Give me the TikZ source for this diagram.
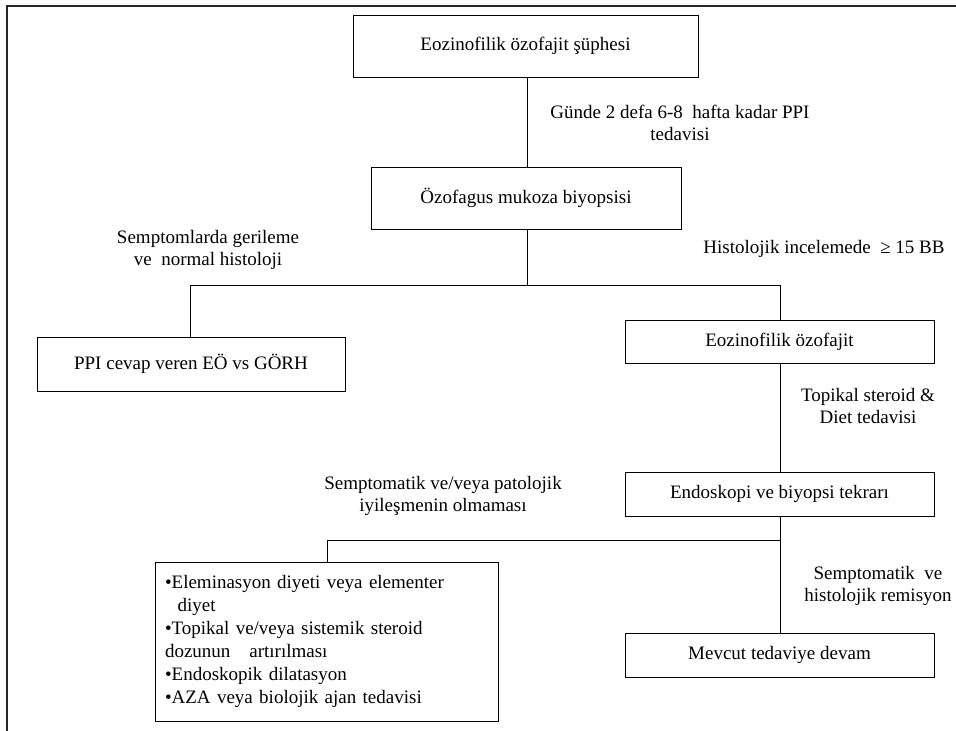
\documentclass[tikz,border=0pt]{standalone}
\usepackage{fontspec}
\setmainfont{Liberation Serif}
\usetikzlibrary{positioning}

\begin{document}
\begin{tikzpicture}[x=1pt,y=-1pt]
   \tikzset{Kutu/.style={draw, thin, inner sep=0pt, align=center,
       font=\fontsize{19}{22}\selectfont}}
   \tikzset{Etiket/.style={inner sep=0pt, align=center,
       font=\fontsize{19}{22}\selectfont}}
   \useasboundingbox (0,0) rectangle (956,731);
   \draw[line width=2pt, black!85] (6.5,740) -- (6.5,5.5) -- (965,5.5);
   % kutular
   \node[Kutu, minimum width=345, minimum height=62] (supheli) at (525.5,46) {Eozinofilik özofajit şüphesi};
   \node[Kutu, minimum width=310, minimum height=62] (biyopsi) at (526,198) {Özofagus mukoza biyopsisi};
   \node[Kutu, minimum width=308, minimum height=54] (ppicevap) at (191,364) {PPI cevap veren EÖ vs GÖRH};
   \node[Kutu, minimum width=309, minimum height=43] (eozofajit) at (779.5,341.5) {Eozinofilik özofajit};
   \node[Kutu, minimum width=309, minimum height=44] (tekrar) at (779.5,494) {Endoskopi ve  biyopsi tekrarı};
   \node[Kutu, minimum width=309, minimum height=44] (devam) at (779.5,655) {Mevcut tedaviye devam};
   \node[Kutu, minimum width=343, minimum height=159, text width=323pt,
         align=left, font=\fontsize{19}{23}\selectfont] (secenek) at (326.5,641.5)
      {•Eleminasyon diyeti veya elementer\\
       \ \ diyet\\
       •Topikal ve/veya sistemik steroid\\
       dozunun \ \ artırılması\\
       •Endoskopik dilatasyon\\
       •AZA veya biolojik ajan tedavisi};
   % etiketler
   \node[Etiket] (ppi) at (680,123) {Günde 2 defa 6-8 \ hafta kadar PPI\\tedavisi};
   \node[Etiket] (gerileme) at (208,249.5) {Semptomlarda gerileme\\ve \ normal histoloji};
   \node[Etiket] (histoloji) at (824,249) {Histolojik incelemede \ ≥ 15 BB};
   \node[Etiket] (steroid) at (868,406) {Topikal steroid \&\\Diet tedavisi};
   \node[Etiket] (iyilesme) at (443,495.5) {Semptomatik ve/veya patolojik\\iyileşmenin olmaması};
   \node[Etiket] (remisyon) at (878,586) {Semptomatik \ ve\\histolojik remisyon};
   % baglantilar
   \coordinate (dal1) at (527,285);
   \coordinate (dal1sol) at (190,285);
   \coordinate (dal1sag) at (780,285);
   \coordinate (dal2) at (780,540);
   \coordinate (dal2sol) at (327,540);
   \draw (supheli.south -| dal1) -- (biyopsi.north -| dal1);
   \draw (biyopsi.south -| dal1) -- (dal1);
   \draw (dal1sol) -- (dal1sag);
   \draw (dal1sol) -- (ppicevap.north -| dal1sol);
   \draw (dal1sag) -- (eozofajit.north -| dal1sag);
   \draw (eozofajit.south -| dal1sag) -- (tekrar.north -| dal1sag);
   \draw (tekrar.south -| dal2) -- (devam.north -| dal2);
   \draw (dal2sol) -- (dal2);
   \draw (dal2sol) -- (secenek.north -| dal2sol);
\end{tikzpicture}
\end{document}
